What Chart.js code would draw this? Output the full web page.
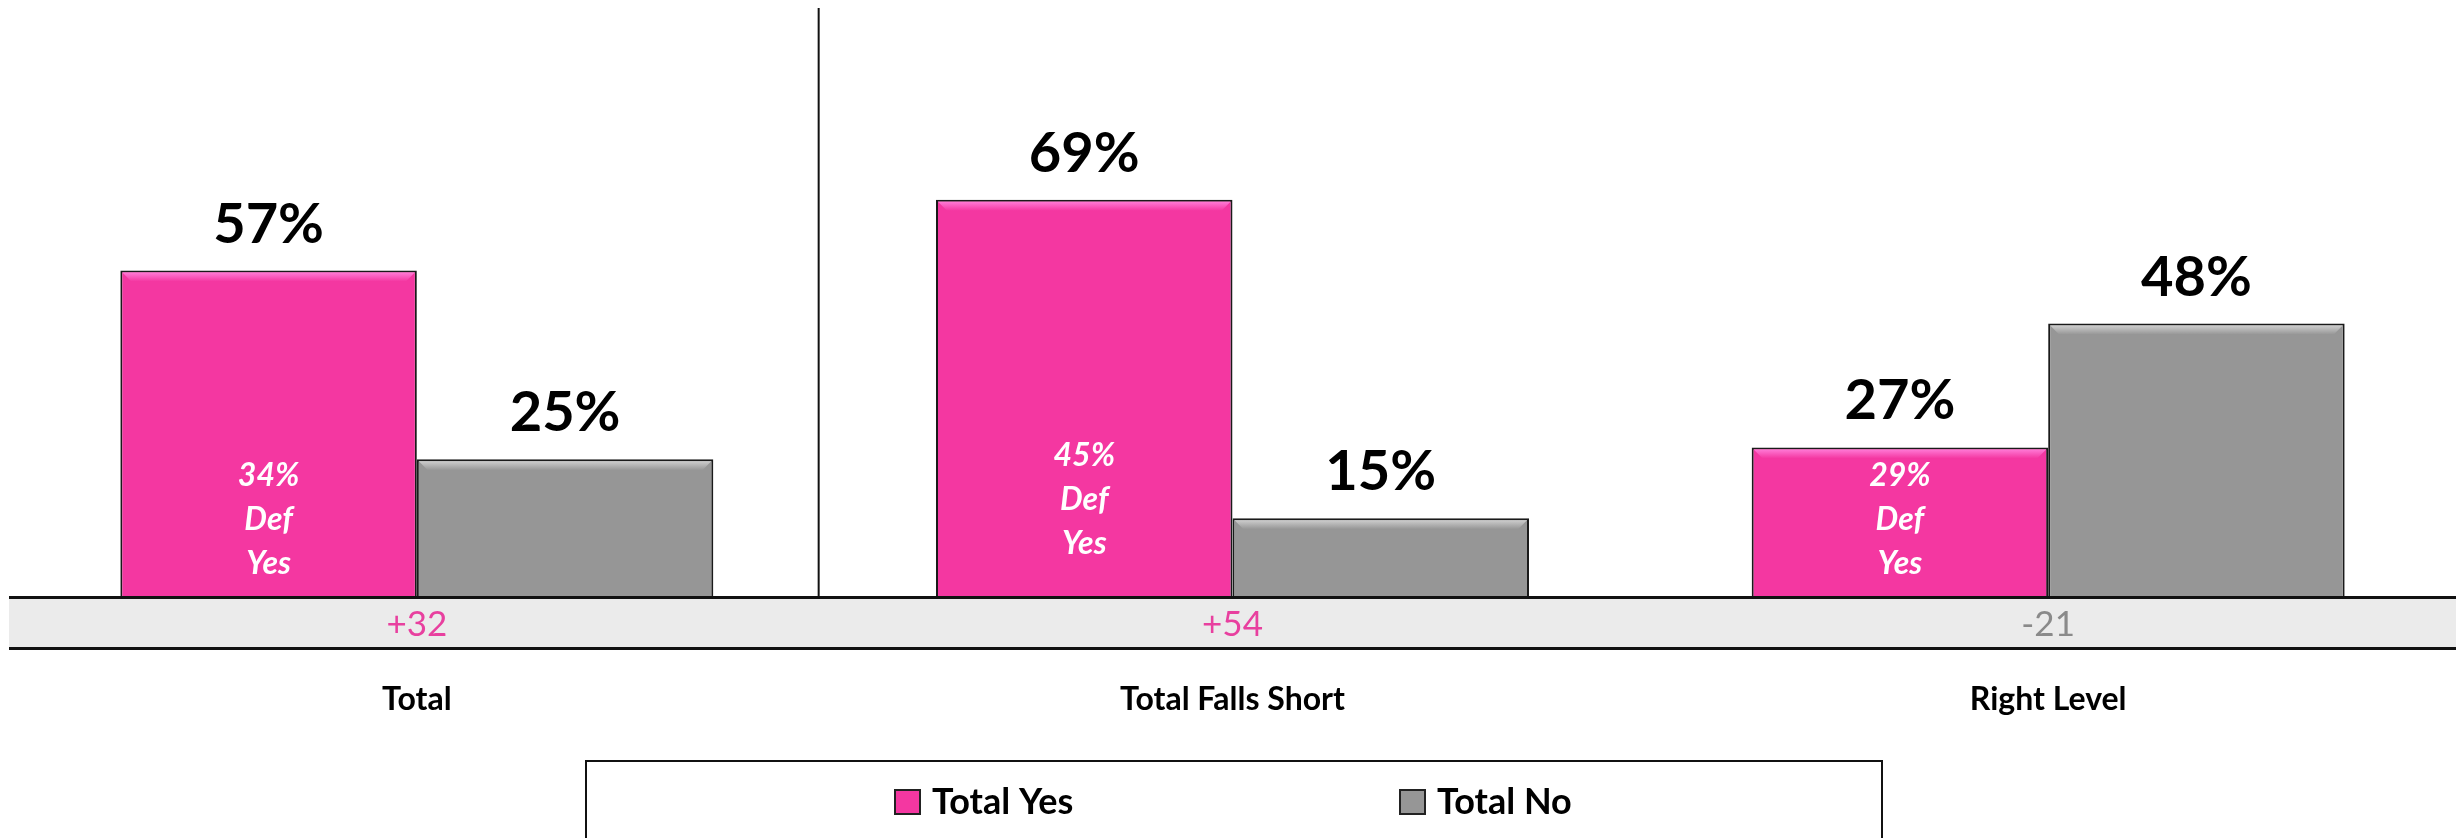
<!DOCTYPE html>
<html>
<head>
<meta charset="utf-8">
<script src="https://cdn.jsdelivr.net/npm/chart.js"></script>
<style>
  body { margin: 0; background: #ffffff; }
  #wrap { width: 2456px; height: 838px; }
</style>
</head>
<body>
<div id="wrap"><canvas id="defChart" width="2456" height="838"></canvas></div>
<script>
// data
const categories = ['Total', 'Total Falls Short', 'Right Level'];
const totalYes = [57, 69, 27];
const totalNo = [25, 15, 48];
const defYes = [34, 45, 29];
const seriesNames = ['Total Yes', 'Total No'];

const pink = '#f437a1';
const pinkLight = '#ff7ad6';
const grey = '#969696';
const greyLight = '#cdcdcd';

Chart.defaults.font.family = 'Lato, "Open Sans", sans-serif';
Chart.defaults.color = '#000000';

function shade(ctx, el, light) {
    let left = el.x - el.width / 2 + 2;
    let right = el.x + el.width / 2 - 2;
    let top = el.y + 2;
    let d = 9;
    let g = ctx.createLinearGradient(0, top, 0, top + d);
    g.addColorStop(0, light);
    g.addColorStop(1, el.options.backgroundColor);
    ctx.fillStyle = g;
    ctx.beginPath();
    ctx.moveTo(left, top);
    ctx.lineTo(right, top);
    ctx.lineTo(right - d, top + d);
    ctx.lineTo(left + d, top + d);
    ctx.closePath();
    ctx.fill();
}

const extras = {
    id: 'extras',
    beforeDatasetsDraw(chart) {
        const ctx = chart.ctx;
        const x = chart.scales.x;
        const y0 = chart.scales.y.getPixelForValue(0);
        let divX = (x.getPixelForValue(0) + x.getPixelForValue(1)) / 2 - 6;
        ctx.save();
        ctx.strokeStyle = '#111111';
        ctx.lineWidth = 2;
        ctx.beginPath();
        ctx.moveTo(divX, 8);
        ctx.lineTo(divX, y0);
        ctx.stroke();
        ctx.restore();
    },
    afterDatasetsDraw(chart, args, opts) {
        const ctx = chart.ctx;
        const x = chart.scales.x;
        const y0 = chart.scales.y.getPixelForValue(0);
        const lights = [pinkLight, greyLight];
        ctx.save();

        // bevel on top of each bar
        chart.data.datasets.forEach(function (ds, di) {
            chart.getDatasetMeta(di).data.forEach(function (el) {
                shade(ctx, el, lights[di]);
            });
        });

        // grey band under the bars
        let bandTop = y0 - 9;
        let bandBottom = y0 + 42;
        ctx.fillStyle = '#ebebeb';
        ctx.fillRect(9, bandTop, chart.width - 9, bandBottom - bandTop);
        ctx.strokeStyle = '#111111';
        ctx.lineWidth = 3;
        ctx.beginPath();
        ctx.moveTo(9, bandTop);
        ctx.lineTo(chart.width, bandTop);
        ctx.moveTo(9, bandBottom);
        ctx.lineTo(chart.width, bandBottom);
        ctx.stroke();

        // difference yes - no
        ctx.textAlign = 'center';
        ctx.textBaseline = 'middle';
        ctx.font = '35px Lato';
        for (let i = 0; i < categories.length; i++) {
            let diff = totalYes[i] - totalNo[i];
            ctx.fillStyle = diff >= 0 ? '#e8409f' : '#8a8a8a';
            ctx.fillText((diff >= 0 ? '+' : '') + diff, x.getPixelForValue(i), y0 + 18);
        }

        // value labels on top
        ctx.fillStyle = '#000000';
        ctx.font = 'bold 56px Lato';
        chart.data.datasets.forEach(function (ds, di) {
            chart.getDatasetMeta(di).data.forEach(function (el, i) {
                ctx.fillText(ds.data[i] + '%', el.x, el.y - 46);
            });
        });

        // "Def Yes" inside the pink bars
        ctx.fillStyle = '#ffffff';
        ctx.font = 'italic bold 32px Lato';
        chart.getDatasetMeta(0).data.forEach(function (el, i) {
            let mid = y0 - 87 - opts.lift[i];
            ctx.fillText(defYes[i] + '%', el.x, mid - 44);
            ctx.fillText('Def', el.x, mid);
            ctx.fillText('Yes', el.x, mid + 44);
        });
        ctx.restore();
    },
    afterDraw(chart, args, opts) {
        const ctx = chart.ctx;
        ctx.save();
        ctx.strokeStyle = '#111111';
        ctx.lineWidth = 2;
        ctx.strokeRect(586, 761, 1296, 100);
        ctx.textAlign = 'left';
        ctx.textBaseline = 'middle';
        ctx.font = 'bold 36px Lato';
        chart.data.datasets.forEach(function (ds, di) {
            let lx = opts.itemX[di];
            ctx.fillStyle = ds.backgroundColor;
            ctx.fillRect(lx, 790, 25, 24);
            ctx.strokeStyle = '#222222';
            ctx.lineWidth = 2;
            ctx.strokeRect(lx, 790, 25, 24);
            ctx.fillStyle = '#000000';
            ctx.fillText(ds.label, lx + 37, 802);
        });
        ctx.restore();
    }
};

const data = {
    labels: categories,
    datasets: [{
        label: seriesNames[0],
        data: totalYes,
        backgroundColor: pink,
        borderColor: '#1a1a1a',
        borderWidth: 2,
        borderSkipped: 'bottom'
    }, {
        label: seriesNames[1],
        data: totalNo,
        backgroundColor: grey,
        borderColor: '#1a1a1a',
        borderWidth: 2,
        borderSkipped: 'bottom'
    }]
};

const config = {
    type: 'bar',
    data: data,
    options: {
        responsive: false,
        devicePixelRatio: 1,
        animation: false,
        categoryPercentage: 0.727,
        barPercentage: 1.0,
        layout: {
            padding: { left: 9, right: 0, top: 17, bottom: 45 }
        },
        plugins: {
            legend: { display: false },
            tooltip: { enabled: false },
            extras: {
                lift: [0, 20, 0],
                itemX: [895, 1400]
            }
        },
        scales: {
            x: {
                grid: { display: false, drawTicks: false },
                border: { display: false },
                ticks: {
                    padding: 74,
                    color: '#000000',
                    font: { size: 32, weight: 'bold' }
                }
            },
            y: {
                display: false,
                min: 0,
                max: 100
            }
        }
    },
    plugins: [extras]
};

var defChart = new Chart(document.getElementById('defChart'), config);
</script>
</body>
</html>
